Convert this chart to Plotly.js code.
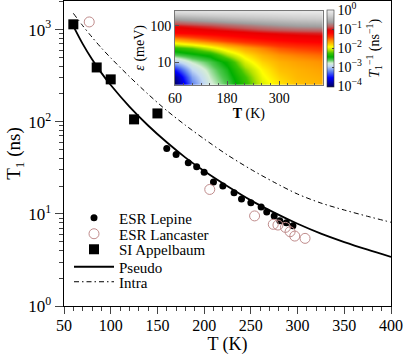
<!DOCTYPE html>
<html>
<head>
<meta charset="utf-8">
<script src="https://cdn.plot.ly/plotly-3.0.1.min.js"></script>
<style>html,body{margin:0;padding:0;background:#fff;}#chart{width:404px;height:355px;}</style>
</head>
<body>
<div id="chart"></div>
<script>
// ---- Data ----
var lepineT  = [160, 170, 183, 192, 200, 210, 220, 232, 240, 250, 261, 267, 275, 281, 288, 295];
var lepineT1 = [51.3, 44.2, 35.8, 32.4, 28.2, 22.1, 20.0, 16.9, 14.5, 13.2, 11.9, 10.5, 9.5, 8.4, 8.0, 7.43];

var lancasterT  = [77, 206, 254, 274, 279, 287, 292, 297, 308];
var lancasterT1 = [1210, 18.4, 9.5, 7.7, 7.56, 7.13, 6.4, 5.74, 5.42];

var appelbaumT  = [60, 85, 100, 125, 150];
var appelbaumT1 = [1140, 388, 288, 106, 123];

var curveT   = [60, 70, 80, 90, 100, 120, 140, 160, 180, 200, 225, 250, 275, 300, 325, 350, 375, 400];
var pseudoT1 = [1090, 699, 476, 339, 250, 146, 91, 59.8, 40.8, 29.1, 19.9, 14.0, 10.3, 7.8, 6.1, 4.94, 4.08, 3.41];
var intraT1  = [1500, 1102, 827, 632, 493, 309, 199, 132, 91.5, 65, 43.5, 30.4, 22.0, 16.4, 13.1, 11.0, 9.4, 8.1];

// inset: log10(1/T1) on a grid of temperature (K) and energy (meV)
var insetT   = [60, 100, 140, 180, 220, 260, 300, 340, 400];
var insetEps = [2.5, 4, 6.3, 10, 16, 25, 40, 63, 100, 160, 250];
var insetLogRate = [
  [-4.0, -3.2, -2.8, -2.6, -2.3, -2.0, -1.85, -1.75, -1.7],
  [-3.85, -3.1, -2.75, -2.55, -2.25, -1.95, -1.8, -1.72, -1.68],
  [-3.5, -2.95, -2.7, -2.5, -2.15, -1.9, -1.75, -1.7, -1.65],
  [-3.0, -2.75, -2.6, -2.4, -2.0, -1.8, -1.7, -1.65, -1.6],
  [-2.6, -2.5, -2.4, -2.1, -1.85, -1.7, -1.6, -1.55, -1.5],
  [-2.3, -2.2, -2.0, -1.8, -1.65, -1.55, -1.45, -1.4, -1.35],
  [-1.75, -1.62, -1.5, -1.4, -1.32, -1.27, -1.22, -1.18, -1.15],
  [-1.2, -1.17, -1.13, -1.1, -1.06, -1.02, -0.99, -0.97, -0.95],
  [-1.0, -0.95, -0.9, -0.84, -0.78, -0.72, -0.67, -0.63, -0.6],
  [-0.6, -0.55, -0.5, -0.45, -0.41, -0.38, -0.35, -0.32, -0.3],
  [-0.15, -0.13, -0.11, -0.1, -0.09, -0.08, -0.07, -0.06, -0.05]
];

var yTickVals = [1, 10, 100, 1000];
var yTickText = ['10<sup>0</sup>', '10<sup>1</sup>', '10<sup>2</sup>', '10<sup>3</sup>'];
var cbTickVals = [-4, -3, -2, -1, 0];
var cbTickText = ['10<sup>\u22124</sup>', '10<sup>\u22123</sup>', '10<sup>\u22122</sup>', '10<sup>\u22121</sup>', '10<sup>0</sup>'];

// ---- Chart ----
var SERIF = 'Liberation Serif';

var traces = [
  {
    type: 'heatmap', x: insetT, y: insetEps, z: insetLogRate,
    xaxis: 'x2', yaxis: 'y2', zmin: -4.03, zmax: 0.03, zsmooth: 'best', showlegend: false,
    hoverinfo: 'skip',
    colorscale: [
      [0, '#00005e'], [0.12, '#0000ff'], [0.2, '#5a7ef0'], [0.27, '#c4daf2'],
      [0.31, '#d6eed6'], [0.35, '#50c850'], [0.39, '#00b000'], [0.44, '#40c400'],
      [0.48, '#b4e200'], [0.52, '#ffff00'], [0.56, '#ffc400'], [0.6, '#ff9000'],
      [0.65, '#ff3800'], [0.7, '#ff0000'], [0.74, '#e80000'], [0.78, '#c05858'],
      [0.84, '#a0a0a0'], [0.92, '#cdcdcd'], [1, '#f0f0f0']
    ],
    colorbar: {
      x: 0.8034, xanchor: 'left', xpad: 0, y: 0.8448, yanchor: 'middle', ypad: 0,
      len: 0.2515, lenmode: 'fraction', thickness: 7, thicknessmode: 'pixels',
      outlinewidth: 0.6, outlinecolor: '#333',
      tickmode: 'array', tickvals: cbTickVals, ticktext: cbTickText,
      ticks: 'inside', ticklen: 2, tickfont: {family: SERIF, size: 14, color: '#000'},
      title: {text: '<i>T</i><sub>1</sub><sup>\u22121</sup> (ns<sup>\u22121</sup>)', side: 'right',
              font: {family: SERIF, size: 14, color: '#000'}}
    }
  },
  {
    type: 'scatter', mode: 'markers', name: 'ESR Lepine', x: lepineT, y: lepineT1,
    marker: {symbol: 'circle', size: 7, color: '#000'}, legend: 'legend'
  },
  {
    type: 'scatter', mode: 'markers', name: 'ESR Lancaster', x: lancasterT, y: lancasterT1,
    marker: {symbol: 'circle-open', size: 10, color: '#c08c8c', line: {width: 1}}, legend: 'legend2'
  },
  {
    type: 'scatter', mode: 'markers', name: 'SI Appelbaum', x: appelbaumT, y: appelbaumT1,
    marker: {symbol: 'square', size: 10, color: '#000'}, legend: 'legend3'
  },
  {
    type: 'scatter', mode: 'lines', name: 'Pseudo', x: curveT, y: pseudoT1,
    line: {color: '#000', width: 1.8, shape: 'spline', smoothing: 0.8}, legend: 'legend4'
  },
  {
    type: 'scatter', mode: 'lines', name: 'Intra', x: curveT, y: intraT1,
    line: {color: '#000', width: 1, dash: '5px,3px,1.5px,3px', shape: 'spline', smoothing: 0.8}, legend: 'legend5'
  }
];

function leg(yFrac) {
  return {x: 0.0153, xanchor: 'left', y: yFrac, yanchor: 'middle', bgcolor: 'rgba(0,0,0,0)',
          itemwidth: 40, font: {family: SERIF, size: 15, color: '#000'}};
}

var layout = {
  width: 404, height: 355,
  margin: {l: 64, r: 13, t: 1, b: 49},
  paper_bgcolor: '#fff', plot_bgcolor: '#fff',
  font: {family: SERIF, color: '#000'},
  showlegend: true,
  legend: leg(0.2885), legend2: leg(0.2361), legend3: leg(0.1852), legend4: leg(0.1279), legend5: leg(0.0787),
  xaxis: {
    range: [50, 400], tick0: 50, dtick: 50, ticks: 'outside', ticklen: 7, tickwidth: 1,
    showline: true, linewidth: 1.3, linecolor: '#000', mirror: true, showgrid: false, zeroline: false,
    minor: {dtick: 10, ticks: 'outside', ticklen: 4, tickwidth: 1, showgrid: false},
    tickfont: {family: SERIF, size: 16}, automargin: false, ticklabelstandoff: -3,
    title: {text: 'T (K)', font: {family: SERIF, size: 18}, standoff: 6}
  },
  yaxis: {
    type: 'log', range: [0, 3.31], tickmode: 'array', tickvals: yTickVals, ticktext: yTickText,
    ticks: 'outside', ticklen: 8, tickwidth: 1,
    showline: true, linewidth: 1.3, linecolor: '#000', mirror: true, showgrid: false, zeroline: false,
    minor: {dtick: 'D1', ticks: 'outside', ticklen: 4, tickwidth: 1, showgrid: false},
    tickfont: {family: SERIF, size: 17}, automargin: false,
    title: {text: 'T<sub>1</sub> (ns)', font: {family: SERIF, size: 19}, standoff: 2}
  },
  xaxis2: {
    domain: [0.3394, 0.7911], anchor: 'y2', range: [60, 400], tick0: 60, dtick: 120,
    ticks: 'inside', ticklen: 4, tickcolor: '#555',
    minor: {dtick: 20, ticks: 'inside', ticklen: 2, tickcolor: '#555', showgrid: false},
    showline: true, linecolor: '#777', linewidth: 1, mirror: true, showgrid: false, zeroline: false,
    tickfont: {family: SERIF, size: 14}, automargin: false,
    title: {text: '<b>T</b> (K)', font: {family: SERIF, size: 14}, standoff: 2}
  },
  yaxis2: {
    domain: [0.7246, 0.9682], anchor: 'x2', type: 'log', range: [0.37, 2.42],
    tickmode: 'array', tickvals: [10, 100], ticktext: ['10', '100'],
    ticks: 'inside', ticklen: 4, tickcolor: '#555',
    showline: true, linecolor: '#777', linewidth: 1, mirror: true, showgrid: false, zeroline: false,
    tickfont: {family: SERIF, size: 14}, automargin: false,
    title: {text: '<i>\u03b5</i> (meV)', font: {family: SERIF, size: 14}, standoff: 2}
  }
};

Plotly.newPlot('chart', traces, layout, {displayModeBar: false, staticPlot: true});
</script>
</body>
</html>
